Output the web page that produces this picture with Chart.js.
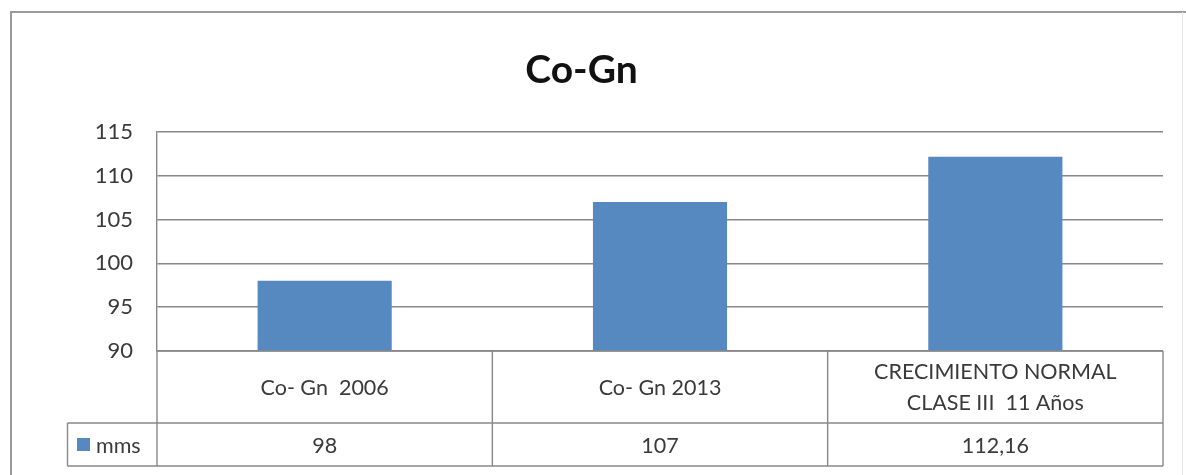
<!DOCTYPE html>
<html>
<head>
<meta charset="utf-8">
<title>Co-Gn</title>
<script src="https://cdn.jsdelivr.net/npm/chart.js@4/dist/chart.umd.min.js"></script>
<style>
  html, body { margin: 0; padding: 0; background: #ffffff; }
  #wrap { position: relative; width: 1186px; height: 475px; }
</style>
</head>
<body>
<div id="wrap"><canvas id="chart" width="1186" height="475"></canvas></div>
<script>
// Co-Gn measurements (mm)
const chartTitle = 'Co-Gn';
const seriesName = 'mms';
const categories = [
  'Co- Gn  2006',
  'Co- Gn 2013',
  ['CRECIMIENTO NORMAL', 'CLASE III  11 Años']
];
const mmsValues = [98, 107, 112.16];
const yTicks = [90, 95, 100, 105, 110, 115];

const FONT = 'Lato, "Open Sans", "DejaVu Sans", sans-serif';
const TEXT = '#3a3a3a';
const LINE = '#888888';
const BAR = '#5689c0';

// values as printed in the data table (decimal comma)
const fmt = v => String(v).replace('.', ',');

// outer frame of the chart object
const framePlugin = {
  id: 'frame',
  beforeDraw(chart) {
    const ctx = chart.ctx;
    ctx.save();
    ctx.strokeStyle = '#9a9a9a';
    ctx.lineWidth = 2;
    ctx.beginPath();
    ctx.moveTo(11, 475);
    ctx.lineTo(11, 12);
    ctx.lineTo(1186, 12);
    ctx.stroke();
    ctx.strokeStyle = '#e6e6e6';
    ctx.lineWidth = 1;
    ctx.beginPath();
    ctx.moveTo(1182.5, 12);
    ctx.lineTo(1182.5, 475);
    ctx.stroke();
    ctx.restore();
  }
};

// data table under the plot: category row and value row with legend key
const tablePlugin = {
  id: 'dataTable',
  afterDraw(chart) {
    const ctx = chart.ctx;
    const area = chart.chartArea;
    const xs = chart.scales.x;
    const n = categories.length;
    const colW = (area.right - area.left) / n;
    const top = area.bottom;
    const mid = top + 72;
    const bot = mid + 43;
    const keyLeft = 67.5;

    ctx.save();
    ctx.strokeStyle = LINE;
    ctx.lineWidth = 1.4;
    ctx.beginPath();
    // horizontal rules
    ctx.moveTo(area.left, top); ctx.lineTo(area.right, top);
    ctx.moveTo(keyLeft, mid); ctx.lineTo(area.right, mid);
    ctx.moveTo(keyLeft, bot); ctx.lineTo(area.right, bot);
    // vertical rules
    for (let i = 0; i <= n; i++) {
      const x = area.left + i * colW;
      ctx.moveTo(x, top); ctx.lineTo(x, bot);
    }
    ctx.moveTo(keyLeft, mid); ctx.lineTo(keyLeft, bot);
    ctx.stroke();

    ctx.fillStyle = TEXT;
    ctx.font = '21.5px ' + FONT;
    ctx.textAlign = 'center';
    ctx.textBaseline = 'middle';
    const lh = 31;
    categories.forEach((lab, i) => {
      const cx = xs.getPixelForValue(i);
      const lines = Array.isArray(lab) ? lab : [lab];
      const cy = (top + mid) / 2 + 1;
      lines.forEach((t, k) => {
        ctx.fillText(t, cx, cy + (k - (lines.length - 1) / 2) * lh);
      });
      ctx.fillText(fmt(mmsValues[i]), cx, (mid + bot) / 2 + 2);
    });

    // legend key
    ctx.fillStyle = BAR;
    ctx.fillRect(77, 438, 13, 13);
    ctx.fillStyle = TEXT;
    ctx.textAlign = 'left';
    ctx.fillText(seriesName, 96, (mid + bot) / 2 + 2);
    ctx.restore();
  }
};

new Chart(document.getElementById('chart'), {
  type: 'bar',
  data: {
    labels: categories,
    datasets: [{
      label: seriesName,
      data: mmsValues,
      backgroundColor: BAR,
      borderWidth: 0,
      categoryPercentage: 1.0,
      barPercentage: 0.4
    }]
  },
  options: {
    responsive: false,
    animation: false,
    events: [],
    layout: { padding: { left: 0, right: 23, top: 0, bottom: 124 } },
    plugins: {
      legend: { display: false },
      tooltip: { enabled: false },
      title: {
        display: true,
        text: chartTitle,
        color: '#111111',
        font: { family: FONT, size: 39, weight: 'bold' },
        padding: { top: 47, bottom: 38 }
      }
    },
    scales: {
      x: {
        display: false
      },
      y: {
        min: 90,
        max: 115,
        afterBuildTicks: s => { s.ticks = yTicks.map(v => ({ value: v })); },
        afterFit: s => { s.width = 157; },
        border: { display: true, color: LINE, width: 1.4 },
        grid: { color: LINE, lineWidth: 1.4, drawTicks: false },
        ticks: {
          color: TEXT,
          padding: 24,
          font: { family: FONT, size: 22 }
        }
      }
    }
  },
  plugins: [framePlugin, tablePlugin]
});
</script>
</body>
</html>
